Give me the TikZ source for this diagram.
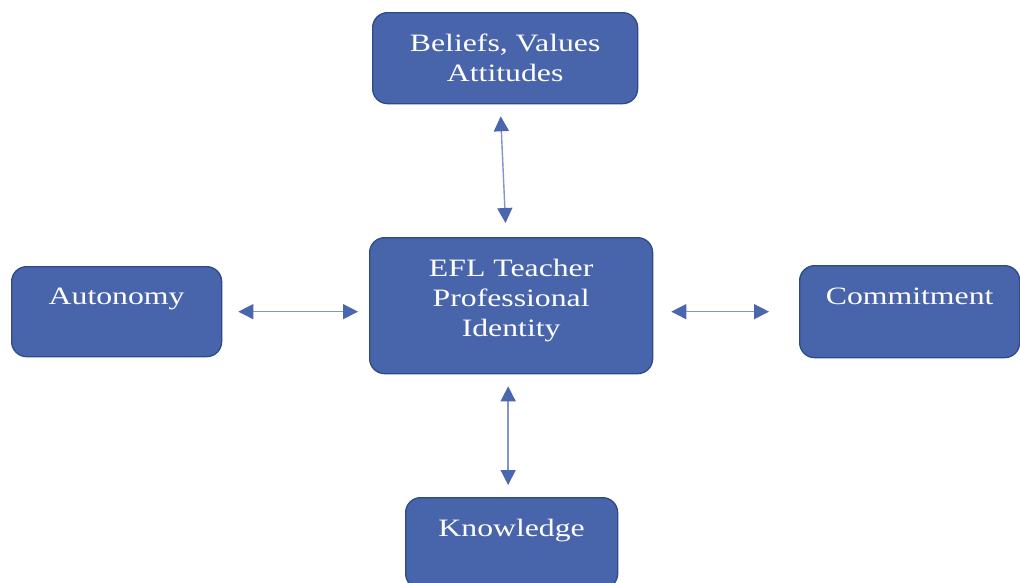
\documentclass[tikz,border=0pt]{standalone}
\usepackage{fontspec}
\newfontfamily\boxfont[FakeStretch=1.27]{Liberation Serif}
\usetikzlibrary{arrows.meta,calc}
\definecolor{boxfill}{HTML}{4864AA}
\definecolor{boxline}{HTML}{2F4A88}
\definecolor{arrline}{HTML}{8197CC}
\definecolor{arrtip}{HTML}{4A66AE}
\tikzset{
  box/.style={draw=boxline, line width=1.3pt, fill=boxfill, rounded corners=15pt,
    inner sep=0pt, anchor=north west, text=white, align=center,
    font=\boxfont\fontsize{25}{30}\selectfont},
  arr/.style={draw=arrline, line width=1.4pt,
    {Triangle[length=15pt,width=15pt,color=arrtip]}-{Triangle[length=15pt,width=15pt,color=arrtip]}}
}
\begin{document}
\begin{tikzpicture}[x=1pt,y=-1pt]
\clip (0,0) rectangle (1020,582);
\fill[white] (0,0) rectangle (1020,582);
\node[box, minimum width=265pt, minimum height=91pt] (bel) at (372,12) {Beliefs, Values\\Attitudes};
\node[box, minimum width=283pt, text height=99pt, text depth=37pt] (ctr) at (369,237) {EFL Teacher\\Professional\\Identity};
\node[box, minimum width=210pt, text height=38pt, text depth=52pt] (aut) at (11,266) {Autonomy};
\node[box, minimum width=220pt, text height=39pt, text depth=53pt] (com) at (799,265) {Commitment};
\node[box, minimum width=212pt, text height=39pt, text depth=52pt] (kno) at (405,497) {Knowledge};
\draw[arr, shorten <=12pt, shorten >=14pt] ([xshift=-5pt]bel.south) -- ([xshift=-5pt]ctr.north);
\draw[arr, shorten <=16pt, shorten >=11pt] (aut.east) -- (aut.east -| ctr.west);
\draw[arr, shorten <=18pt, shorten >=30pt] (com.west -| ctr.east) -- (com.west);
\draw[arr, shorten <=12pt, shorten >=12pt] ([xshift=-3pt]ctr.south) -- ([xshift=-3pt]ctr.south |- kno.north);
\end{tikzpicture}
\end{document}
